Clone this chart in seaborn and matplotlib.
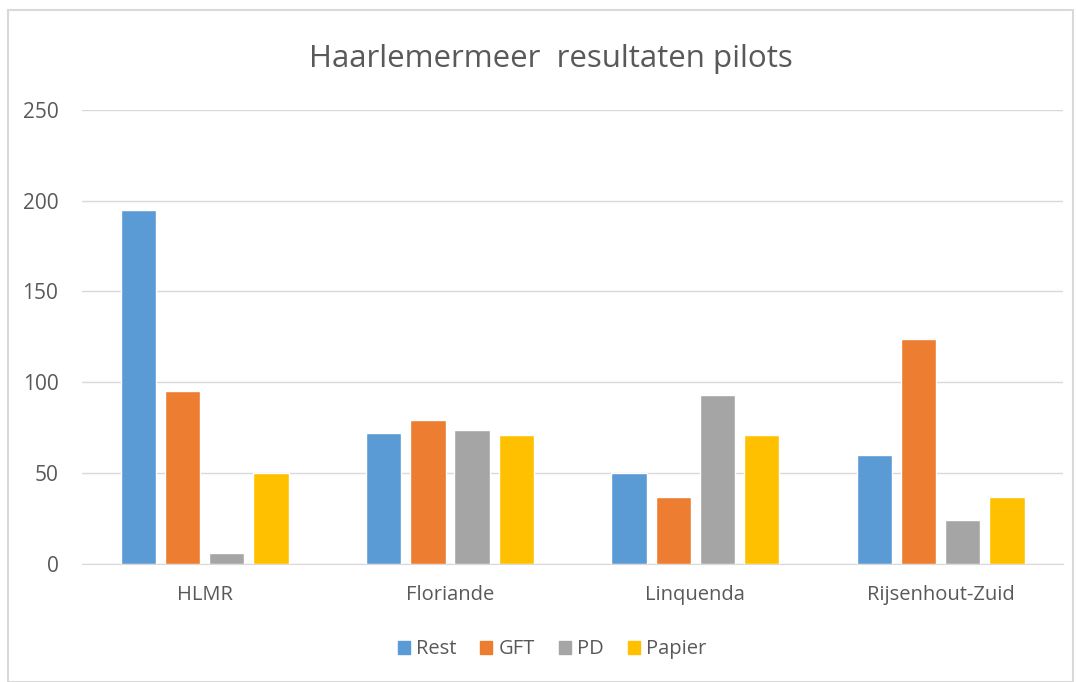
import pandas as pd
import seaborn as sns
import matplotlib.pyplot as plt
from matplotlib.patches import Rectangle

locaties = ["HLMR", "Floriande", "Linquenda", "Rijsenhout-Zuid"]
soorten = ["Rest", "GFT", "PD", "Papier"]
rest = [195, 72, 50, 60]
gft = [95, 79, 37, 124]
pd_vals = [6, 74, 93, 24]
papier = [50, 71, 71, 37]
kleuren = ["#5B9BD5", "#ED7D31", "#A5A5A5", "#FFC000"]

rows = []
for naam, waarden in zip(soorten, [rest, gft, pd_vals, papier]):
    for loc, w in zip(locaties, waarden):
        rows.append({"locatie": loc, "soort": naam, "aantal": w})
df = pd.DataFrame(rows)

sns.set_style("white")
plt.rcParams["font.family"] = ["Open Sans", "DejaVu Sans"]
tekst = "#595959"

fig = plt.figure(figsize=(10.76, 6.82), dpi=100)
ax = fig.add_axes([0.0762, 0.173, 0.912, 0.666])

sns.barplot(data=df, x="locatie", y="aantal", hue="soort", palette=kleuren,
            width=0.72, gap=0.2, saturation=1, ax=ax, legend=False, zorder=3)

ax.set_ylim(0, 250)
ax.set_yticks(range(0, 251, 50))
ax.yaxis.grid(True, color="#D9D9D9", linewidth=1, zorder=0)
ax.set_xlabel("")
ax.set_ylabel("")
for s in ["left", "right", "top"]:
    ax.spines[s].set_visible(False)
ax.spines["bottom"].set_color("#D9D9D9")
ax.tick_params(axis="x", colors=tekst, labelsize=14.5, length=0, pad=15)
ax.tick_params(axis="y", colors=tekst, labelsize=15, length=0, pad=17)

fig.text(0.512, 0.913, "Haarlemermeer  resultaten pilots", ha="center", va="center",
         fontsize=22.5, color=tekst)

handles = [Rectangle((0, 0), 1, 1, color=c) for c in kleuren]
fig.legend(handles, soorten, loc="center", bbox_to_anchor=(0.513, 0.048), ncol=4,
           frameon=False, fontsize=14.5, labelcolor=tekst, handlelength=0.6,
           handleheight=0.6, handletextpad=0.3, columnspacing=1.2)

fig.patches.append(Rectangle((0.0075, 0.0), 0.99, 0.985, transform=fig.transFigure,
                             fill=False, edgecolor="#D9D9D9", linewidth=1.5))

fig.savefig("out.png", dpi=100)
